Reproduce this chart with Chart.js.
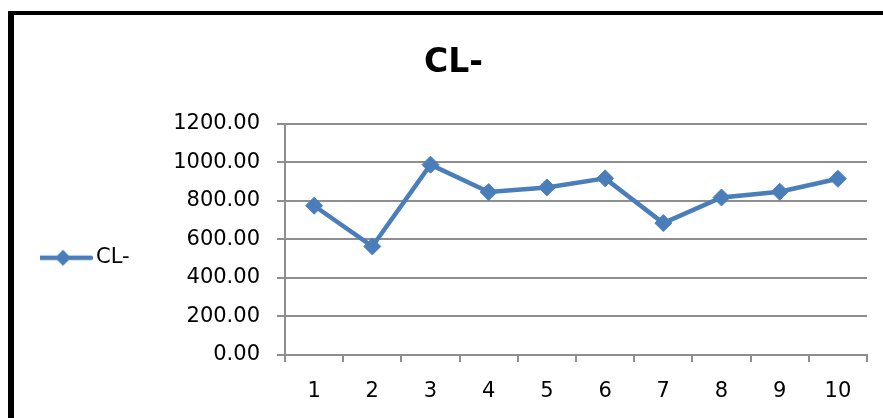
<!DOCTYPE html>
<html>
<head>
<meta charset="utf-8">
<script src="https://cdn.jsdelivr.net/npm/chart.js@4"></script>
<style>
  html, body { margin: 0; padding: 0; background: #fff; overflow: hidden; }
  #wrap { position: relative; width: 883px; height: 418px; }
  #frame { position: absolute; left: 8px; top: 11px; width: 900px; height: 500px;
           border-left: 6px solid #000; border-top: 4px solid #000; pointer-events: none; }
  canvas { position: absolute; left: 0; top: 0; }
</style>
</head>
<body>
<div id="wrap">
  <canvas id="c" width="883" height="418"></canvas>
  <div id="frame"></div>
</div>
<script>
// ---- data ----
const chartTitle = 'CL-';
const seriesName = 'CL-';
const categories = ['1', '2', '3', '4', '5', '6', '7', '8', '9', '10'];
const clValues = [774, 563, 987, 845, 869, 916, 684, 817, 847, 914];
const yMin = 0;
const yMax = 1200;
const yStep = 200;

// ---- styles ----
const lineColor = '#4A7EBB';
const gridColor = '#8e8e8e';
const fontFamily = "'DejaVu Sans', sans-serif";
const padLeft = 40;

// legend symbol: line with diamond marker
function legendSymbol() {
  const cv = document.createElement('canvas');
  cv.width = 56; cv.height = 18;
  const g = cv.getContext('2d');
  g.strokeStyle = lineColor;
  g.lineWidth = 4.5;
  g.lineCap = 'round';
  g.beginPath(); g.moveTo(2, 9); g.lineTo(54, 9); g.stroke();
  g.fillStyle = lineColor;
  g.beginPath();
  g.moveTo(26, 1); g.lineTo(34, 9); g.lineTo(26, 17); g.lineTo(18, 9); g.closePath();
  g.fill();
  return cv;
}
const legendImg = legendSymbol();

new Chart(document.getElementById('c'), {
  type: 'line',
  data: {
    labels: categories,
    datasets: [{
      label: seriesName,
      data: clValues,
      borderColor: lineColor,
      backgroundColor: lineColor,
      borderWidth: 4.5,
      pointStyle: 'rectRot',
      pointRadius: 8.5,
      pointHoverRadius: 8.5,
      pointBorderWidth: 1,
      pointBackgroundColor: lineColor,
      pointBorderColor: lineColor,
      tension: 0,
      fill: false
    }]
  },
  options: {
    responsive: false,
    animation: false,
    devicePixelRatio: 1,
    layout: { padding: { left: padLeft, right: 16, top: 0, bottom: 0 } },
    plugins: {
      tooltip: { enabled: false },
      title: {
        display: true,
        text: chartTitle,
        color: '#000',
        font: { family: fontFamily, size: 33, weight: 'bold', lineHeight: 1.2 },
        padding: { top: 44, bottom: 40 }
      },
      legend: {
        display: true,
        position: 'left',
        fullSize: false,
        align: 'center',
        title: { display: true, text: ' ', font: { size: 10, lineHeight: 1.2 }, padding: { top: 0, bottom: 25 } },
        labels: {
          color: '#000',
          font: { family: fontFamily, size: 21 },
          usePointStyle: true,
          pointStyleWidth: 41,
          boxHeight: 18,
          padding: 4.5,
          generateLabels: () => [{
            text: seriesName,
            pointStyle: legendImg,
            fillStyle: 'transparent',
            strokeStyle: 'transparent',
            lineWidth: 0,
            fontColor: '#000',
            hidden: false,
            datasetIndex: 0
          }]
        }
      }
    },
    scales: {
      x: {
        offset: true,
        afterFit: s => { s.height = 63; },
        grid: {
          offset: true,
          drawOnChartArea: false,
          drawTicks: true,
          tickLength: 7,
          color: gridColor,
          lineWidth: 2
        },
        border: { display: true, color: gridColor, width: 2 },
        ticks: {
          color: '#000',
          font: { family: fontFamily, size: 21 },
          padding: 17,
          maxRotation: 0,
          autoSkip: false
        }
      },
      y: {
        min: yMin,
        max: yMax,
        afterFit: s => {
          const lg = s.chart.legend;
          s.width = 285 - padLeft - (lg && lg.width ? lg.width : 0);
        },
        grid: {
          color: gridColor,
          lineWidth: 2,
          drawTicks: true,
          tickLength: 8
        },
        border: { display: true, color: gridColor, width: 2 },
        ticks: {
          stepSize: yStep,
          color: '#000',
          font: { family: fontFamily, size: 21 },
          padding: 17,
          callback: v => Number(v).toFixed(2)
        }
      }
    }
  }
});
</script>
</body>
</html>
